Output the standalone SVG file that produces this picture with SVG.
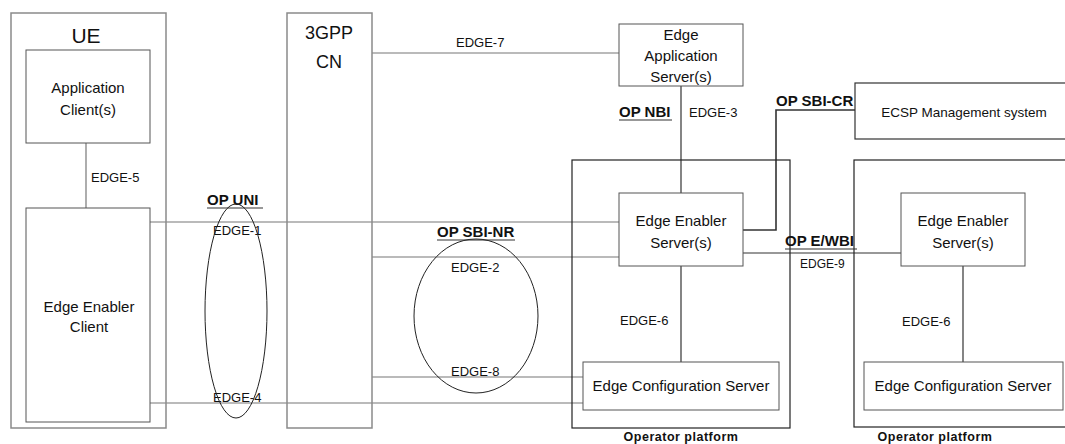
<svg xmlns="http://www.w3.org/2000/svg" width="1065" height="444" viewBox="0 0 1065 444">
<style>
.outer{fill:none;stroke:#8a8a8a;stroke-width:1.5}
.plat{fill:none;stroke:#222;stroke-width:1.2}
.box{fill:#fff;stroke:#555;stroke-width:1}
.ln{fill:none;stroke:#777;stroke-width:1.2}
.dk{fill:none;stroke:#333;stroke-width:1.2}
.ell{fill:none;stroke:#222;stroke-width:1}
text{font-family:"Liberation Sans",Arial,sans-serif;fill:#111}
.t{font-size:15px;text-anchor:middle}
.lb{font-size:13px}
.b{font-size:15px;font-weight:bold}
.pl{font-size:12.5px;font-weight:bold;text-anchor:middle;letter-spacing:0.5px}
.ul{stroke:#333;stroke-width:1.2}
</style>
<rect width="1065" height="444" fill="#fff"/>

<g id="connectors">
  <line class="ln" x1="86" y1="143" x2="86" y2="208"/>
  <line class="ln" x1="150" y1="222" x2="619" y2="222"/>
  <line class="ln" x1="150" y1="403" x2="583" y2="403"/>
  <line class="ln" x1="372" y1="53" x2="619" y2="53"/>
  <line class="ln" x1="372" y1="257" x2="619" y2="257"/>
  <line class="ln" x1="372" y1="377" x2="583" y2="377"/>
  <line class="dk" x1="681" y1="86" x2="681" y2="193"/>
  <line class="dk" x1="681" y1="266" x2="681" y2="362"/>
  <polyline class="dk" points="743,230 776,230 776,110 855,110" style="stroke-width:1.6"/>
  <line class="dk" x1="743" y1="253" x2="901" y2="253"/>
  <line class="dk" x1="963" y1="266" x2="963" y2="362"/>
</g>

<g id="ue">
  <rect class="outer" x="11" y="13" width="155" height="415"/>
  <text x="86" y="43" style="font-size:21px;text-anchor:middle">UE</text>
</g>
<g id="application-client">
  <rect class="box" x="26" y="50" width="124" height="93"/>
  <text class="t" x="88" y="93">Application</text>
  <text class="t" x="88" y="115">Client(s)</text>
</g>
<g id="edge-enabler-client">
  <rect class="box" x="26" y="208" width="124" height="214"/>
  <text class="t" x="89" y="312">Edge Enabler</text>
  <text class="t" x="89" y="332">Client</text>
</g>
<g id="cn">
  <rect class="outer" x="287" y="13" width="85" height="415"/>
  <text x="329" y="39" style="font-size:18px;text-anchor:middle">3GPP</text>
  <text x="329" y="68" style="font-size:18px;text-anchor:middle">CN</text>
</g>

<g id="platform-1">
  <rect class="plat" x="572" y="160" width="218" height="268"/>
  <text class="pl" x="681" y="441">Operator platform</text>
</g>
<g id="eas">
  <rect class="box" x="619" y="24" width="124" height="62"/>
  <text class="t" x="681" y="40">Edge</text>
  <text class="t" x="681" y="61">Application</text>
  <text class="t" x="681" y="82">Server(s)</text>
</g>
<g id="ees-1">
  <rect class="box" x="619" y="193" width="124" height="73"/>
  <text class="t" x="681" y="226">Edge Enabler</text>
  <text class="t" x="681" y="248">Server(s)</text>
</g>
<g id="ecs-1">
  <rect class="box" x="583" y="362" width="196" height="48"/>
  <text class="t" x="681" y="391">Edge Configuration Server</text>
</g>

<g id="ecsp">
  <rect class="box" x="855" y="83" width="220" height="56" style="stroke:#333;stroke-width:1.2"/>
  <text x="964" y="117" style="font-size:13.5px;text-anchor:middle">ECSP Management system</text>
</g>
<g id="platform-2">
  <rect class="plat" x="854" y="160" width="230" height="267"/>
  <text class="pl" x="935" y="441">Operator platform</text>
</g>
<g id="ees-2">
  <rect class="box" x="901" y="193" width="124" height="73"/>
  <text class="t" x="963" y="226">Edge Enabler</text>
  <text class="t" x="963" y="248">Server(s)</text>
</g>
<g id="ecs-2">
  <rect class="box" x="864" y="362" width="199" height="48"/>
  <text class="t" x="963" y="391">Edge Configuration Server</text>
</g>

<g id="labels">
  <text class="lb" x="91" y="182">EDGE-5</text>
  <text class="lb" x="456" y="47">EDGE-7</text>
  <text class="b" x="619" y="117">OP NBI</text>
  <line class="ul" x1="619" y1="120" x2="672" y2="120"/>
  <text class="lb" x="689" y="117">EDGE-3</text>
  <text class="b" x="776" y="106">OP SBI-CR</text>
  <text class="b" x="207" y="205">OP UNI</text>
  <line class="ul" x1="207" y1="208" x2="263" y2="208"/>
  <text class="lb" x="213" y="235">EDGE-1</text>
  <text class="lb" x="213" y="402">EDGE-4</text>
  <text class="b" x="437" y="237">OP SBI-NR</text>
  <line class="ul" x1="437" y1="240" x2="515" y2="240"/>
  <text class="lb" x="451" y="272">EDGE-2</text>
  <text class="lb" x="451" y="376">EDGE-8</text>
  <text class="lb" x="620" y="325">EDGE-6</text>
  <text class="lb" x="902" y="326">EDGE-6</text>
  <text class="b" x="785" y="246">OP E/WBI</text>
  <line class="ul" x1="785" y1="249" x2="857" y2="249"/>
  <text x="800" y="268" style="font-size:12px">EDGE-9</text>
  <ellipse class="ell" cx="236" cy="311" rx="31" ry="107"/>
  <ellipse class="ell" cx="476" cy="316" rx="62" ry="77"/>
</g>
</svg>
